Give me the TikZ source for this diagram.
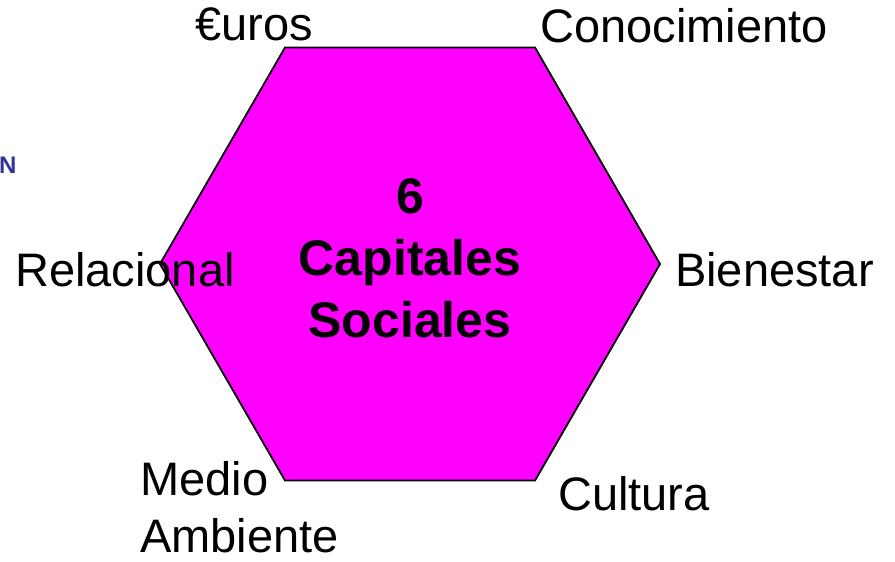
\documentclass[tikz,border=0pt]{standalone}
\usepackage{fontspec}
\setmainfont{Liberation Sans}
\usetikzlibrary{shapes.geometric}
\definecolor{hexfill}{RGB}{255,0,255}
\definecolor{navytext}{RGB}{51,51,153}
\tikzset{
	capital/.style={anchor=base west, inner sep=0pt, font=\fontsize{47}{57}\selectfont},
	hexa/.style={regular polygon, regular polygon sides=6, minimum size=500pt, inner sep=0pt,
		draw=black, line width=1.8pt, fill=hexfill}
}

\begin{document}
\begin{tikzpicture}[x=1pt, y=-1pt]
			%%%%% START %%%%%
			
			\useasboundingbox (0, 0) rectangle (895, 562);
			
			\node[hexa] (hex) at (410, 264) {};
			\node[align=center, inner sep=0pt, font=\bfseries\fontsize{50}{62}\selectfont] (title) at (410, 258) {6\\Capitales\\Sociales};
			
			\node[capital] (euros) at (195, 40) {€uros};
			\node[capital] (conoc) at (540, 42) {Conocimiento};
			\node[capital] (relac) at (15, 286) {Relacional};
			\node[capital] (bien) at (675, 286) {Bienestar};
			\node[capital, align=left] (medio) at (140, 552) {Medio\\Ambiente};
			\node[capital] (cult) at (558, 510) {Cultura};
			
			\node[anchor=base west, inner sep=0pt, text=navytext, font=\bfseries\fontsize{24}{28}\selectfont] (edge) at (-1, 173) {N};
			
			%%%%% END %%%%%
		\end{tikzpicture}
\end{document}
